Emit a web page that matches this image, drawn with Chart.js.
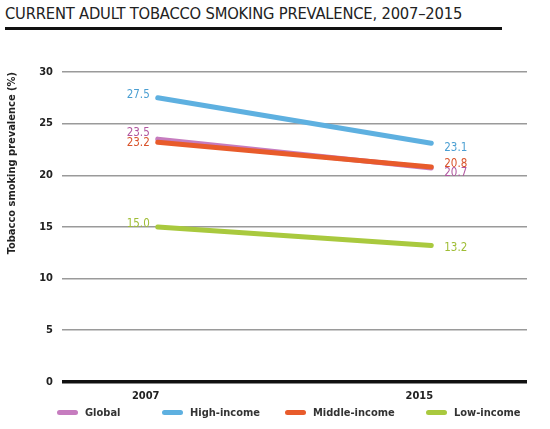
<!DOCTYPE html>
<html>
<head>
<meta charset="utf-8">
<script src="https://cdn.jsdelivr.net/npm/chart.js@4"></script>
<style>
  html, body { margin: 0; padding: 0; background: #fff; }
  #wrap { position: relative; width: 550px; height: 429px; }
  #title {
    position: absolute; left: 5px; top: 4px; width: 497px;
    font-family: "DejaVu Sans Condensed", "DejaVu Sans", sans-serif;
    font-size: 16.4px; color: #222; letter-spacing: -0.2px;
    padding-bottom: 4px; border-bottom: 3px solid #111;
  }
  canvas { position: absolute; left: 0; top: 0; }
  .leg {
    position: absolute; top: 406px; height: 14px; line-height: 14px;
    font-family: "DejaVu Sans Condensed", "DejaVu Sans", sans-serif;
    font-size: 11px; font-weight: bold; color: #333; white-space: nowrap;
  }
  .leg i {
    display: inline-block; width: 21px; height: 5px; border-radius: 3px;
    vertical-align: middle; margin-right: 7px; margin-top: -2px;
  }
</style>
</head>
<body>
<div id="wrap">
  <div id="title">CURRENT ADULT TOBACCO SMOKING PREVALENCE, 2007–2015</div>
  <canvas id="c" width="550" height="429"></canvas>
  <div id="legend"></div>
</div>
<script>
// ─── Data ─────────────────────────────────────────────
var years = [2007, 2015];
var seriesNames = ['Global', 'High-income', 'Middle-income', 'Low-income'];
var globalVals = [23.5, 20.7];
var highVals = [27.5, 23.1];
var middleVals = [23.2, 20.8];
var lowVals = [15.0, 13.2];
var yTicks = [0, 5, 10, 15, 20, 25, 30];

// ─── Style ────────────────────────────────────────────
var colors = ['#c67cbf', '#5eb0e0', '#e85b2b', '#a9c93e'];
var textColors = ['#b0569f', '#4b9fd2', '#d9532a', '#9fbd35'];
// label shifts in px [left dy, right dy]
var labelShift = [[-6, 5], [-3, 5], [1, -3], [-3, 3]];
var legendLeft = [57, 162, 285, 426];
var FONT = '"DejaVu Sans Condensed", "DejaVu Sans", sans-serif';

function pts(vals) {
  return vals.map(function (v, i) { return { x: years[i], y: v }; });
}

var allVals = [globalVals, highVals, middleVals, lowVals];
var drawOrder = [2, 4, 1, 3];

var datasets = allVals.map(function (vals, i) {
  return {
    label: seriesNames[i],
    data: pts(vals),
    borderColor: colors[i],
    backgroundColor: colors[i],
    borderWidth: 5,
    borderCapStyle: 'round',
    pointRadius: 0,
    order: drawOrder[i]
  };
});

// ─── Legend (html) ────────────────────────────────────
document.getElementById('legend').innerHTML = seriesNames.map(function (n, i) {
  return '<div class="leg" style="left:' + legendLeft[i] + 'px">' +
    '<i style="background:' + colors[i] + '"></i>' + n + '</div>';
}).join('');

// ─── Value labels ─────────────────────────────────────
var valueLabels = {
  id: 'valueLabels',
  afterDatasetsDraw: function (chart) {
    var ctx = chart.ctx;
    ctx.save();
    ctx.font = '11.5px ' + FONT;
    ctx.textBaseline = 'middle';
    chart.data.datasets.forEach(function (ds, i) {
      var meta = chart.getDatasetMeta(i);
      meta.data.forEach(function (p, j) {
        ctx.fillStyle = textColors[i];
        var v = ds.data[j].y.toFixed(1);
        if (j === 0) {
          ctx.textAlign = 'right';
          ctx.fillText(v, p.x - 8, p.y + labelShift[i][0]);
        } else {
          ctx.textAlign = 'left';
          ctx.fillText(v, p.x + 13, p.y + labelShift[i][1]);
        }
      });
    });
    ctx.restore();
  }
};

new Chart(document.getElementById('c'), {
  type: 'line',
  data: { datasets: datasets },
  plugins: [valueLabels],
  options: {
    responsive: false,
    animation: false,
    layout: { padding: { top: 72, right: 23, bottom: 26, left: 6 } },
    plugins: {
      tooltip: { enabled: false },
      legend: { display: false }
    },
    scales: {
      x: {
        type: 'linear',
        min: 2004.2,
        max: 2017.8,
        afterBuildTicks: function (axis) {
          axis.ticks = years.map(function (y) { return { value: y }; });
        },
        grid: { display: false },
        border: { display: false },
        ticks: {
          labelOffset: -12,
          padding: 0,
          color: '#222',
          font: { family: FONT, size: 11, weight: 'bold' },
          callback: function (v) { return String(v); }
        }
      },
      y: {
        min: 0,
        max: 30,
        afterBuildTicks: function (axis) {
          axis.ticks = yTicks.map(function (v) { return { value: v }; });
        },
        afterFit: function (axis) { axis.width = 56; },
        border: { display: false },
        grid: {
          drawTicks: false,
          color: function (c) { return c.tick && c.tick.value === 0 ? '#111' : '#9a9a9a'; },
          lineWidth: function (c) { return c.tick && c.tick.value === 0 ? 3.5 : 1.5; }
        },
        ticks: {
          padding: 9,
          color: '#222',
          font: { family: FONT, size: 11, weight: 'bold' }
        },
        title: {
          display: true,
          text: 'Tobacco smoking prevalence (%)',
          align: 'end',
          color: '#222',
          padding: { top: 0, bottom: 4 },
          font: { family: FONT, size: 11, weight: 'bold' }
        }
      }
    }
  }
});
</script>
</body>
</html>
